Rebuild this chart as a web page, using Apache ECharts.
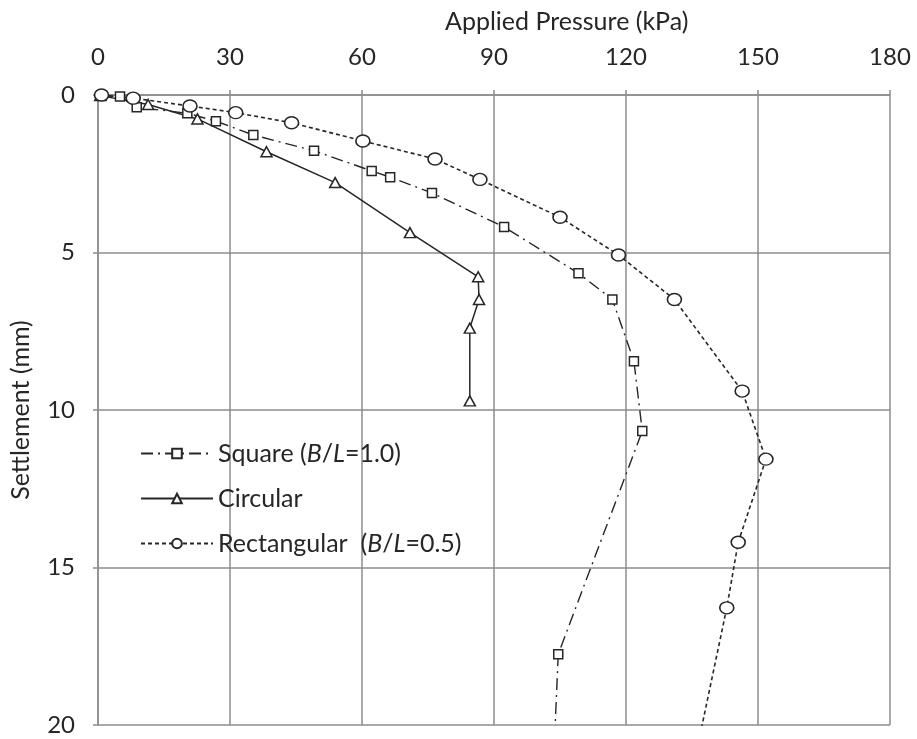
<!DOCTYPE html>
<html>
<head>
<meta charset="utf-8">
<script src="https://cdn.jsdelivr.net/npm/echarts@6/dist/echarts.min.js"></script>
<style>
    html, body { margin: 0; padding: 0; background: #fff; }
    #chart { width: 917px; height: 739px; }
</style>
</head>
<body>
<div id="chart"></div>
<script>
    // pressure (kPa), settlement (mm)
    var squareData = [
        [0.8, 0.02], [5.0, 0.05], [8.8, 0.39], [20.3, 0.58], [26.8, 0.83], [35.3, 1.27],
        [49.1, 1.77], [62.2, 2.41], [66.4, 2.61], [75.9, 3.11], [92.3, 4.19], [109.2, 5.66],
        [116.9, 6.49], [121.8, 8.45], [123.7, 10.67], [104.6, 17.75]
    ];
    var squareTail = [[104.6, 17.75], [103.6, 21]];

    var circularData = [
        [0.5, 0.02], [11.4, 0.3], [22.6, 0.76], [38.3, 1.8], [53.9, 2.78], [70.9, 4.37],
        [86.4, 5.77], [86.6, 6.49], [84.5, 7.4], [84.5, 9.71]
    ];

    var rectData = [
        [0.8, 0.0], [8.0, 0.1], [20.9, 0.35], [31.3, 0.56], [44.0, 0.88], [60.2, 1.46],
        [76.6, 2.03], [86.8, 2.68], [105.0, 3.88], [118.3, 5.08], [131.0, 6.49], [146.4, 9.4],
        [151.8, 11.56], [145.5, 14.2], [142.9, 16.28]
    ];
    var rectTail = [[142.9, 16.28], [135.8, 21]];

    var xTicks = [0, 30, 60, 90, 120, 150, 180];
    var yTicks = [0, 5, 10, 15, 20];

    var fontName = 'Lato';
    var ink = '#262626';
    var gridColor = '#8c8c8c';

    var myChart = echarts.init(document.getElementById('chart'));

    var squareStyle = { color: ink, width: 1.4, type: [12, 5, 2, 5] };
    var rectStyle = { color: ink, width: 1.6, type: [4, 3] };

    myChart.setOption({
        animation: false,
        backgroundColor: '#fff',
        textStyle: { fontFamily: fontName, color: ink },
        title: {
            text: 'Applied Pressure (kPa)',
            left: 440,
            top: 4,
            textStyle: { fontFamily: fontName, fontSize: 25, fontWeight: 'normal', color: ink }
        },
        grid: { left: 98, right: 27, top: 95, bottom: 14 },
        legend: {
            orient: 'vertical',
            left: 135,
            top: 436,
            itemGap: 20,
            itemWidth: 72,
            itemHeight: 12,
            data: ['Square (B/L=1.0)', 'Circular', 'Rectangular (B/L=0.5)'],
            formatter: function (name) {
                if (name === 'Square (B/L=1.0)') return 'Square ({i|B}/{i|L}=1.0)';
                if (name === 'Rectangular (B/L=0.5)') return 'Rectangular  ({i|B}/{i|L}=0.5)';
                return name;
            },
            textStyle: {
                fontFamily: fontName, fontSize: 25, color: ink,
                rich: { i: { fontFamily: fontName, fontSize: 25, fontStyle: 'italic', color: ink } }
            }
        },
        xAxis: {
            type: 'value',
            position: 'top',
            min: 0,
            max: 180,
            interval: 30,
            axisLine: { show: true, lineStyle: { color: gridColor, width: 1.5 } },
            axisTick: { show: true, length: 5, lineStyle: { color: gridColor, width: 1.5 } },
            axisLabel: {
                margin: 26, fontSize: 24, color: ink, fontFamily: fontName,
                formatter: function (v) { return xTicks.indexOf(v) >= 0 ? String(v) : ''; }
            },
            splitLine: { show: true, lineStyle: { color: gridColor, width: 1.5 } }
        },
        yAxis: {
            type: 'value',
            inverse: true,
            min: 0,
            max: 20,
            interval: 5,
            name: 'Settlement (mm)',
            nameLocation: 'middle',
            nameGap: 65,
            nameRotate: 90,
            nameTextStyle: { fontFamily: fontName, fontSize: 25, color: ink },
            axisLine: { show: true, lineStyle: { color: gridColor, width: 1.5 } },
            axisTick: { show: true, length: 5, lineStyle: { color: gridColor, width: 1.5 } },
            axisLabel: {
                margin: 23, fontSize: 24, color: ink, fontFamily: fontName,
                formatter: function (v) { return yTicks.indexOf(v) >= 0 ? String(v) : ''; }
            },
            splitLine: { show: true, lineStyle: { color: gridColor, width: 1.5 } }
        },
        series: [
            {
                name: 'Square (B/L=1.0)',
                type: 'line',
                data: squareData,
                symbol: 'rect',
                symbolSize: 9,
                itemStyle: { color: '#fff', borderColor: ink, borderWidth: 1.5 },
                lineStyle: squareStyle,
                z: 3
            },
            {
                name: 'Square (B/L=1.0)',
                type: 'line',
                data: squareTail,
                symbol: 'none',
                lineStyle: squareStyle,
                clip: true,
                z: 2
            },
            {
                name: 'Circular',
                type: 'line',
                data: circularData,
                symbol: 'triangle',
                symbolSize: [11, 10],
                itemStyle: { color: '#fff', borderColor: ink, borderWidth: 1.5 },
                lineStyle: { color: ink, width: 1.5, type: 'solid' },
                z: 3
            },
            {
                name: 'Rectangular (B/L=0.5)',
                type: 'line',
                data: rectData,
                symbol: 'circle',
                symbolSize: [14, 12],
                itemStyle: { color: '#fff', borderColor: ink, borderWidth: 1.5 },
                lineStyle: rectStyle,
                z: 3
            },
            {
                name: 'Rectangular (B/L=0.5)',
                type: 'line',
                data: rectTail,
                symbol: 'none',
                lineStyle: rectStyle,
                clip: true,
                z: 2
            }
        ]
    });
    window.onresize = myChart.resize;
</script>
</body>
</html>
